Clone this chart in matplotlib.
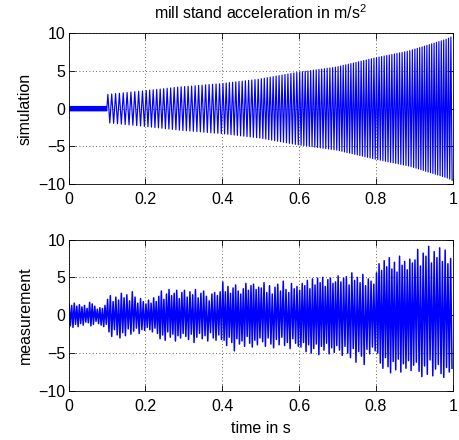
import numpy as np
import matplotlib
matplotlib.use("Agg")
import matplotlib.pyplot as plt

# ---------------- data ----------------
# simulation: small band before 0.1 s
sim_pre_amp = [0.3] * 40          # per-cycle amplitude, 0 .. 0.1 s
# simulation: cycles counted per 0.1 s interval from 0.1 s to 1.0 s
sim_interval_edges = [0.1, 0.2, 0.3, 0.4, 0.5, 0.6, 0.7, 0.8, 0.9, 1.0]
sim_cycle_amp = [
    [1.90, 1.95, 2.00, 2.05, 2.10, 2.15, 2.20, 2.25, 2.30, 2.35],
    [2.40, 2.45, 2.50, 2.55, 2.60, 2.65, 2.70, 2.75, 2.80, 2.85, 2.90],
    [2.93, 2.97, 3.00, 3.04, 3.08, 3.12, 3.16, 3.20, 3.24, 3.27, 3.30],
    [3.35, 3.40, 3.45, 3.50, 3.55, 3.60, 3.65, 3.70, 3.75, 3.80, 3.85, 3.90],
    [3.97, 4.04, 4.11, 4.18, 4.25, 4.32, 4.39, 4.46, 4.53, 4.60, 4.67, 4.74, 4.80],
    [4.85, 4.90, 4.95, 5.00, 5.05, 5.10, 5.15, 5.20, 5.25, 5.30, 5.35, 5.40, 5.45, 5.50],
    [5.58, 5.66, 5.74, 5.82, 5.90, 5.98, 6.06, 6.14, 6.22, 6.30, 6.38, 6.46, 6.54, 6.62, 6.70],
    [6.77, 6.84, 6.91, 6.98, 7.05, 7.12, 7.19, 7.26, 7.33, 7.40, 7.47, 7.54, 7.61, 7.70, 7.80],
    [7.90, 8.00, 8.10, 8.20, 8.30, 8.40, 8.50, 8.60, 8.70, 8.80, 8.90, 9.00, 9.10, 9.20, 9.35, 9.50],
]

# measurement: per-cycle upper and lower peaks, per 0.1 s interval
meas_interval_edges = [0.0, 0.1, 0.2, 0.3, 0.4, 0.5, 0.6, 0.7, 0.8, 0.9, 1.0]
meas_upper = [
    [1.5, 1.3, 1.6, 1.2, 1.4, 1.1, 1.3, 0.9, 1.7, 1.5, 1.2, 0.8, 1.0, 0.9, 1.3],
    [2.1, 2.6, 1.8, 2.4, 2.0, 2.9, 2.3, 2.7, 1.9, 3.1, 2.4, 1.6, 2.2, 1.8],
    [1.5, 2.0, 1.6, 2.3, 1.8, 2.5, 3.2, 2.1, 2.8, 3.4, 2.6, 2.9, 3.3, 2.2, 3.0],
    [3.3, 2.4, 3.1, 2.7, 3.4, 2.3, 2.9, 3.2, 2.5, 1.9, 2.8, 3.0, 2.6, 3.1],
    [4.4, 3.1, 3.8, 2.9, 3.6, 4.0, 3.2, 2.8, 3.5, 4.2, 3.3, 3.9, 4.1, 3.4, 3.7],
    [3.6, 4.3, 3.0, 3.9, 2.8, 3.7, 4.1, 3.2, 4.5, 3.4, 3.0, 4.2, 3.5, 3.8],
    [3.3, 4.2, 3.9, 4.6, 3.5, 4.8, 4.0, 4.9, 4.3, 5.0, 3.8, 4.7, 4.9, 4.2, 4.4],
    [5.2, 4.4, 4.9, 5.1, 4.0, 5.6, 4.6, 5.0, 4.3, 5.4, 3.9, 4.8, 4.5, 4.1],
    [5.6, 6.8, 5.9, 7.2, 6.4, 7.6, 6.1, 7.0, 5.7, 7.8, 6.6, 7.1, 6.0, 7.4, 6.9],
    [7.3, 8.7, 6.5, 8.2, 7.8, 9.1, 6.9, 8.4, 7.6, 8.9, 7.1, 8.6, 6.8, 7.5],
]
meas_lower = [
    [-1.4, -1.6, -1.2, -1.5, -1.1, -1.3, -0.9, -1.0, -1.4, -1.2, -0.8, -1.1, -1.3, -1.5, -1.2],
    [-2.2, -2.8, -1.9, -2.6, -3.0, -2.3, -2.7, -1.8, -2.5, -2.1, -1.7, -2.4, -1.9, -2.0],
    [-1.6, -1.9, -2.2, -1.7, -2.4, -3.1, -2.6, -3.3, -2.2, -2.9, -2.5, -3.4, -2.7, -3.0, -2.4],
    [-2.8, -3.2, -2.5, -3.6, -2.9, -2.4, -3.1, -2.7, -3.4, -2.3, -3.0, -3.3, -2.6, -3.2],
    [-3.3, -4.0, -2.9, -3.6, -4.7, -3.1, -3.8, -3.4, -4.1, -2.8, -3.7, -4.2, -3.3, -3.9, -3.0],
    [-3.5, -4.1, -3.0, -3.8, -4.3, -3.2, -3.9, -2.9, -4.0, -3.6, -4.4, -3.1, -3.7, -4.1],
    [-4.2, -3.6, -4.8, -3.9, -5.0, -4.4, -3.8, -5.2, -4.1, -4.6, -3.7, -5.1, -4.3, -4.9, -4.0],
    [-4.6, -5.3, -4.1, -5.0, -5.6, -4.4, -6.2, -4.8, -5.4, -6.5, -4.5, -5.1, -4.2, -4.7],
    [-5.0, -6.3, -7.0, -5.6, -6.8, -7.6, -6.1, -7.2, -5.8, -7.5, -6.4, -7.0, -6.0, -7.3, -6.6],
    [-6.2, -7.4, -8.1, -6.7, -7.8, -5.9, -8.0, -7.1, -6.5, -7.7, -8.2, -6.9, -7.5, -7.0],
]

x_ticks = [0, 0.2, 0.4, 0.6, 0.8, 1.0]
x_ticklabels = ["0", "0.2", "0.4", "0.6", "0.8", "1"]
y_ticks = [-10, -5, 0, 5, 10]
y_ticklabels = ["\u221210", "\u22125", "0", "5", "10"]
title = "mill stand acceleration in m/s$^2$"
ylabel_top = "simulation"
ylabel_bottom = "measurement"
xlabel = "time in s"


def zigzag(t0, t1, ups, downs):
    """Place per-cycle extrema (up then down) evenly inside [t0, t1]."""
    n = len(ups)
    tt, yy = [], []
    for k in range(n):
        tt += [t0 + (k + 0.25) / n * (t1 - t0), t0 + (k + 0.75) / n * (t1 - t0)]
        yy += [ups[k], downs[k]]
    return tt, yy


# simulation trace
ts, ys = zigzag(0.0, 0.1, sim_pre_amp, [-a for a in sim_pre_amp])
ts = [0.0] + ts
ys = [0.0] + ys
for i, amps in enumerate(sim_cycle_amp):
    tt, yy = zigzag(sim_interval_edges[i], sim_interval_edges[i + 1], amps, [-a for a in amps])
    ts += tt
    ys += yy

# measurement trace
tm, ym = [], []
for i in range(len(meas_upper)):
    tt, yy = zigzag(meas_interval_edges[i], meas_interval_edges[i + 1], meas_upper[i], meas_lower[i])
    tm += tt
    ym += yy

# ---------------- plotting ----------------
FS = 11.5
plt.rcParams["font.family"] = ["Liberation Sans", "DejaVu Sans"]
plt.rcParams["mathtext.fontset"] = "custom"
plt.rcParams["mathtext.rm"] = "Liberation Sans"
fig = plt.figure(figsize=(4.59, 4.40), dpi=100)

W, H = 459.0, 440.0
ax1 = fig.add_axes([68.5 / W, 1 - 184 / H, (452.7 - 68.5) / W, (184 - 33.3) / H])
ax2 = fig.add_axes([68.5 / W, 1 - 391 / H, (452.7 - 68.5) / W, (391 - 239.5) / H])

for ax, (t, y), lw in ((ax1, (ts, ys), 0.85), (ax2, (tm, ym), 1.1)):
    ax.plot(t, y, color=(0, 0, 1), linewidth=lw, antialiased=True)
    ax.set_xlim(0, 1)
    ax.set_ylim(-10, 10)
    ax.set_xticks(x_ticks)
    ax.set_xticklabels(x_ticklabels)
    ax.set_yticks(y_ticks)
    ax.set_yticklabels(y_ticklabels)
    ax.tick_params(direction="in", top=True, right=True, length=4, width=0.6,
                   labelsize=FS, pad=2)
    ax.tick_params(axis="x", pad=5.5)
    ax.grid(True, linestyle=(0, (1, 3)), color="black", linewidth=0.6, alpha=0.8)
    for s in ax.spines.values():
        s.set_linewidth(0.6)

ax1.set_title(title, fontsize=FS, pad=10)
ax1.set_ylabel(ylabel_top, fontsize=FS, labelpad=4)
ax2.set_ylabel(ylabel_bottom, fontsize=FS, labelpad=4)
ax2.set_xlabel(xlabel, fontsize=FS, labelpad=5)

fig.savefig("out.png", dpi=100)
